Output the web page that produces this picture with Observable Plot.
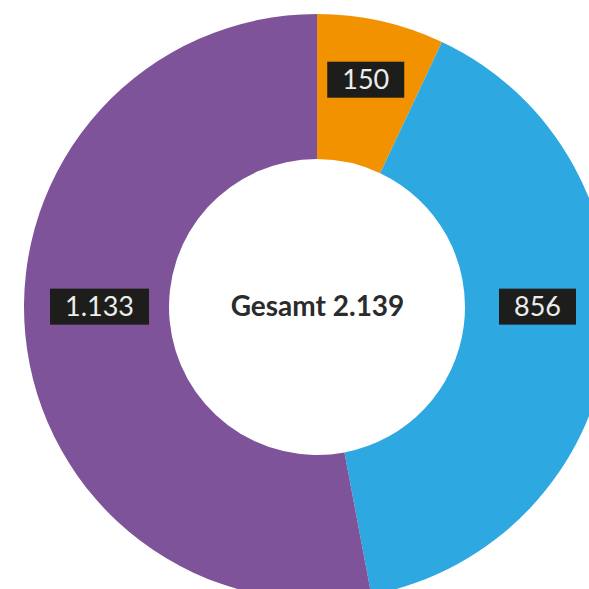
<!DOCTYPE html>
<html><head><meta charset="utf-8">
<script src="https://cdn.jsdelivr.net/npm/d3@7"></script>
<script src="https://cdn.jsdelivr.net/npm/@observablehq/plot@0.6"></script>
<style>html,body{margin:0;padding:0;background:#fff}svg{display:block}</style>
</head><body><div id="chart"></div>
<script>
// Data
const categories = ["Orange", "Blau", "Lila"];
const values = [150, 856, 1133];
const colors = ["#f39200", "#2ea8e0", "#7f5399"];
const labelAngles = [12, 90, 270];     // degrees clockwise from 12 o'clock
const labelRadii = [232, 220, 218];
const totalText = "Gesamt";

const de = d3.formatLocale({decimal: ",", thousands: ".", grouping: [3], currency: ["", " €"]});
const fmt = de.format(",d");
const total = d3.sum(values);

const W = 589, H = 589;
const cx = 317, cy = 307, rOuter = 293, rInner = 148;

const slices = categories.map((c, i) => ({category: c, value: values[i], color: colors[i]}));
const pie = d3.pie().value(d => d.value).sort(null)(slices);

const labels = slices.map((d, i) => {
  const a = labelAngles[i] * Math.PI / 180;
  return {text: fmt(d.value), x: labelRadii[i] * Math.sin(a), y: labelRadii[i] * Math.cos(a)};
});

const donut = (index, scales) => {
  const g = d3.create("svg:g");
  const ox = scales.x(0), oy = scales.y(0);
  const r = scales.x(rOuter) - ox, ri = scales.x(rInner) - ox;
  const arc = d3.arc().innerRadius(ri).outerRadius(r);
  g.selectAll("path").data(pie).join("path")
    .attr("transform", `translate(${ox},${oy})`)
    .attr("d", arc)
    .attr("fill", d => d.data.color);
  return g.node();
};

const chart = Plot.plot({
  width: W, height: H, margin: 0,
  x: {domain: [-cx, W - cx], axis: null},
  y: {domain: [-(H - cy), cy], axis: null},
  marks: [
    donut,
    Plot.text(labels, {x: "x", y: "y", text: "text", fill: "#ececec", fontSize: 27, fontFamily: "Lato"}),
    Plot.text([{x: 0, y: 0, t: totalText + " " + fmt(total)}], {x: "x", y: "y", text: "t", fill: "#2b2b2b", fontSize: 28, fontWeight: "bold", fontFamily: "Lato"})
  ],
  style: {background: "#fff"}
});
document.getElementById("chart").appendChild(chart);

// Dark boxes behind value labels
const groups = chart.querySelectorAll('g[aria-label="text"]');
if (groups.length) {
  groups[0].querySelectorAll("text").forEach(t => {
    const b = t.getBBox();
    const rect = document.createElementNS("http://www.w3.org/2000/svg", "rect");
    const padX = 15, h = 36;
    const midY = b.y + b.height / 2 + 1;
    rect.setAttribute("x", b.x - padX);
    rect.setAttribute("y", midY - h / 2);
    rect.setAttribute("width", b.width + 2 * padX);
    rect.setAttribute("height", h);
    rect.setAttribute("fill", "#1d1d1b");
    if (t.getAttribute("transform")) rect.setAttribute("transform", t.getAttribute("transform"));
    t.parentNode.insertBefore(rect, t);
  });
}
</script>
</body></html>
